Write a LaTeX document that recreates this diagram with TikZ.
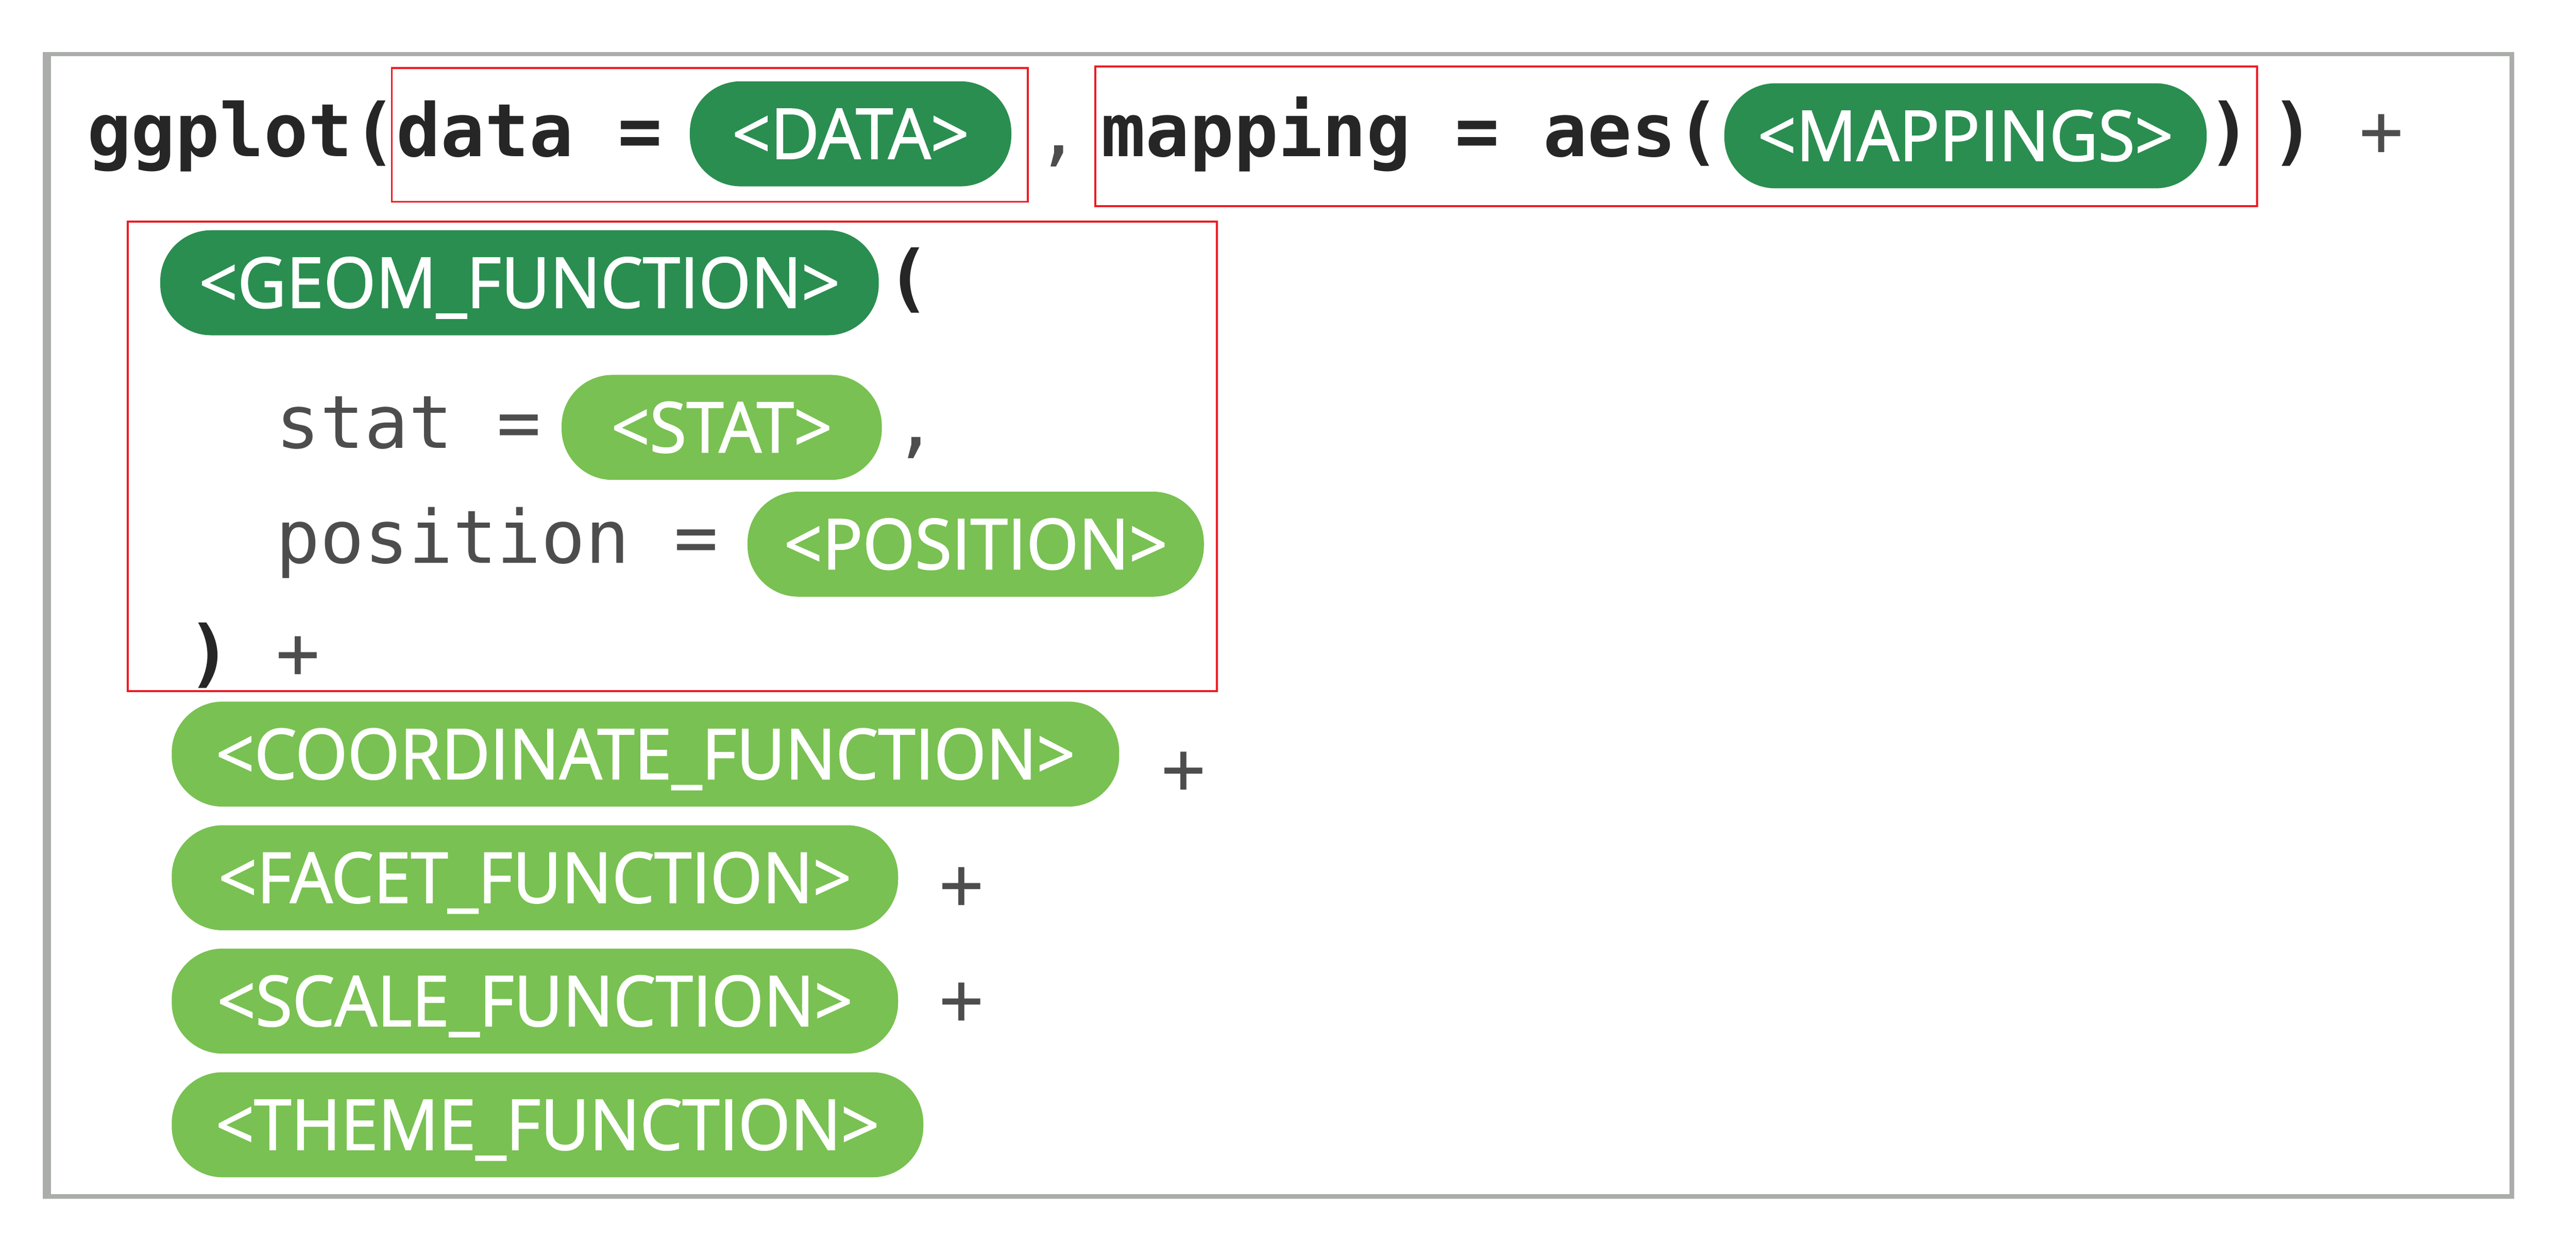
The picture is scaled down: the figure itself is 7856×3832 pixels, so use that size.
\documentclass[tikz,border=0pt]{standalone}
\usepackage{fontspec}
\setmonofont{DejaVu Sans Mono}
\newfontfamily\pillfont[FakeBold=1.5,FakeStretch=0.96]{Open Sans}
\definecolor{darkgreen}{HTML}{2A8E50}
\definecolor{lightgreen}{HTML}{79C152}
\definecolor{codedark}{HTML}{262626}
\definecolor{codegray}{HTML}{4D4D4D}
\definecolor{framegray}{HTML}{ABADAB}
\definecolor{boxred}{HTML}{ED1C24}

\begin{document}
\begin{tikzpicture}[x=0.01cm,y=-0.01cm,
	code/.style={anchor=base west,inner sep=0pt,text=codedark,font=\ttfamily\bfseries\fontsize{63.7pt}{70pt}\selectfont},
	arg/.style={anchor=base west,inner sep=0pt,text=codegray,font=\ttfamily\mdseries\fontsize{63.7pt}{70pt}\selectfont},
	pill/.style={anchor=west,rounded corners=1.55cm,inner sep=0pt,minimum height=3.2cm,text height=1.52cm,text depth=0cm,text=white,font=\pillfont\fontsize{60.6pt}{64pt}\selectfont},
	dark pill/.style={pill,fill=darkgreen},
	light pill/.style={pill,fill=lightgreen},
	redbox/.style={draw=boxred,line width=0.06cm},
	frame/.style={draw=framegray,line width=0.14cm}]
\useasboundingbox (0,0) rectangle (7856,3832);

% frame
\draw[frame] (143,165) rectangle (7661,3648);
\draw[framegray,line width=0.26cm] (143,158) -- (143,3655);

% ggplot( ... ) +
\node[code] (ggplot) at (265,477) {ggplot(data =};
\node[dark pill,minimum width=9.8cm] (data) at (2103,408) {<DATA>};
\node[arg] (comma1) at (3160,477) {,};
\node[code] (mapping) at (3358,477) {mapping = aes(};
\node[dark pill,minimum width=14.7cm] (mappings) at (5258,414) {<MAPPINGS>};
\node[code] (close1) at (6731,477) {)};
\node[code] (close2) at (6924,477) {)};
\node[arg] (plus1) at (7194,477) {+};

% geom layer
\node[dark pill,minimum width=21.9cm] (geom) at (488,862) {<GEOM\_FUNCTION>};
\node[code] (open) at (2703,924) {(};
\node[arg] (stat) at (841,1366) {stat =};
\node[light pill,minimum width=9.76cm] (statpill) at (1712,1303) {<STAT>};
\node[arg] (comma2) at (2724,1366) {,};
\node[arg] (position) at (841,1717) {position =};
\node[light pill,minimum width=13.91cm] (pospill) at (2279,1659) {<POSITION>};
\node[code] (close3) at (571,2069) {)};
\node[arg] (plus2) at (841,2069) {+};

% other layers
\foreach \name/\label/\y/\w in {coord/COORDINATE/2299/28.88, facet/FACET/2676/22.14, scale/SCALE/3052/22.14, theme/THEME/3429/22.91}
	\node[light pill,minimum width=\w cm] (\name) at (523,\y) {<\label\_FUNCTION>};
\node[arg] (plus3) at (3541,2421) {+};
\node[arg] (plus4) at (2865,2773) {+};
\node[arg] (plus5) at (2865,3124) {+};

% red boxes
\draw[redbox] (1195,207) rectangle (3135,615);
\draw[redbox] (3340,203) rectangle (6883,629);
\draw[redbox] (390,675) rectangle (3711,2107);
\end{tikzpicture}
\end{document}
